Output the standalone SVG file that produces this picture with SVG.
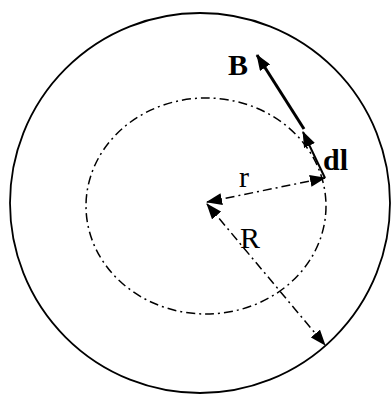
<svg xmlns="http://www.w3.org/2000/svg" width="391" height="396" viewBox="0 0 391 396">
<style>
.dd{fill:none;stroke:#000;stroke-width:1.5;stroke-dasharray:9 4 2 4}
.lbl{font-family:"Liberation Serif","Times New Roman",serif;font-size:30px;fill:#000}
.b{font-weight:bold}
</style>
<defs>
<marker id="ah" markerUnits="userSpaceOnUse" markerWidth="16" markerHeight="12" refX="15" refY="6" orient="auto-start-reverse" viewBox="0 0 16 12">
<path d="M0,0 L16,6 L0,12 z" fill="#000"/>
</marker>
</defs>
<g id="outer-circle"><circle cx="200" cy="203" r="190" fill="none" stroke="#000" stroke-width="1.8"/></g>
<g id="inner-circle"><ellipse cx="206" cy="206" rx="120" ry="108" class="dd"/></g>
<g id="connectors">
<line id="r-arrow" x1="207" y1="202" x2="325" y2="178" class="dd" marker-start="url(#ah)" marker-end="url(#ah)"/>
<line id="R-arrow" x1="207" y1="204" x2="325" y2="345" class="dd" marker-start="url(#ah)" marker-end="url(#ah)"/>
<line id="B-arrow" x1="304" y1="129" x2="257" y2="55" stroke="#000" stroke-width="3" marker-end="url(#ah)"/>
<line id="dl-arrow" x1="325" y1="178" x2="303" y2="132" stroke="#000" stroke-width="2" marker-end="url(#ah)"/>
</g>
<g id="labels">
<text class="lbl b" x="228" y="75">B</text>
<text class="lbl b" x="323" y="170">dl</text>
<text class="lbl" x="239" y="187">r</text>
<text class="lbl" x="240" y="248">R</text>
</g>
</svg>
